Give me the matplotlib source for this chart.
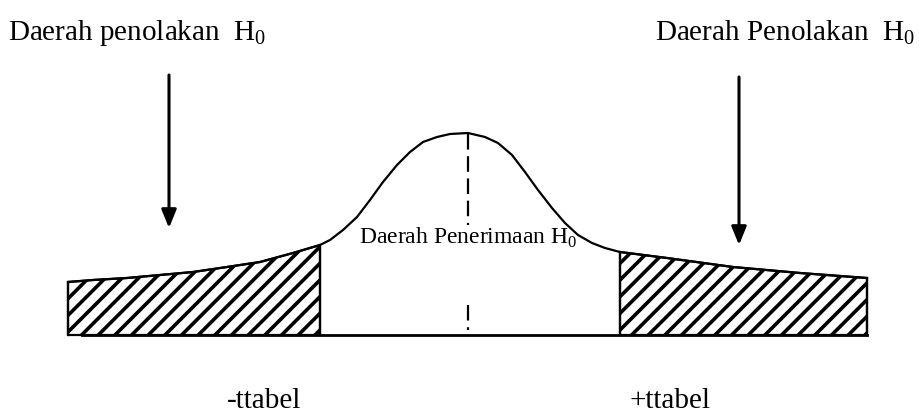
import matplotlib.pyplot as plt

plt.rcParams['font.family'] = ['Liberation Serif', 'DejaVu Serif']
plt.rcParams['mathtext.fontset'] = 'custom'
plt.rcParams['mathtext.rm'] = 'Liberation Serif'
plt.rcParams['hatch.linewidth'] = 2.6

# curve (x in px, height above the base line in px)
kurva_x = [68, 93, 127, 160, 193, 227, 260, 293, 320, 330, 343, 357, 370, 383,
           397, 410, 423, 437, 450, 468, 485, 498, 512, 525, 538, 552, 565,
           578, 592, 605, 620, 667, 733, 800, 867]
kurva_y = [53, 55, 57, 60, 63, 68, 73, 82, 90, 95, 105, 118, 135, 153,
           170, 183, 193, 198, 201, 202, 198, 192, 180, 163, 145, 127, 112,
           100, 92, 87, 83, 77, 68, 62, 57]

t_kiri = 320
t_kanan = 620
puncak = 468
x_awal = 68
x_akhir = 867

fig = plt.figure(figsize=(9.2, 4.15), dpi=100)
ax = fig.add_axes([0, 0, 1, 1])
ax.set_xlim(0, 920)
ax.set_ylim(-80, 335)
ax.axis('off')

ax.plot(kurva_x, kurva_y, color='black', lw=1.6, solid_joinstyle='round')

# rejection regions
kx = [x for x in kurva_x if x <= t_kiri]
ky = kurva_y[:len(kx)]
ax.fill_between(kx, 0, ky, facecolor='white', edgecolor='black', hatch='//', lw=1.6)
ax.plot([x_awal, x_awal], [0, ky[0]], color='black', lw=1.6)
ax.plot([t_kiri, t_kiri], [0, ky[-1]], color='black', lw=1.6)

i0 = kurva_x.index(t_kanan)
ax.fill_between(kurva_x[i0:], 0, kurva_y[i0:], facecolor='white', edgecolor='black',
                hatch='//', lw=1.6)
ax.plot([t_kanan, t_kanan], [0, kurva_y[i0]], color='black', lw=1.6)
ax.plot([x_akhir, x_akhir], [0, kurva_y[-1]], color='black', lw=1.6)

# base line
ax.plot([82, x_akhir], [0, 0], color='black', lw=2)

# centre dashed line
ax.plot([puncak, puncak], [201, 110], color='black', lw=1.6, dashes=(7, 3))
ax.plot([puncak, puncak], [30, 5], color='black', lw=1.6, dashes=(7, 3))

ax.text(puncak, 97, 'Daerah Penerimaan H$_{\\mathrm{0}}$', ha='center', va='center',
        fontsize=17)

# arrows
ax.annotate('', xy=(169, 107), xytext=(169, 260),
            arrowprops=dict(arrowstyle='-|>,head_width=0.45,head_length=1.1',
                            color='black', lw=2.2, shrinkA=0, shrinkB=0))
ax.annotate('', xy=(739, 90), xytext=(739, 258),
            arrowprops=dict(arrowstyle='-|>,head_width=0.45,head_length=1.1',
                            color='black', lw=2.2, shrinkA=0, shrinkB=0))

ax.text(8, 302, 'Daerah penolakan  H$_{\\mathrm{0}}$', ha='left', va='center', fontsize=21)
ax.text(655, 302, 'Daerah Penolakan  H$_{\\mathrm{0}}$', ha='left', va='center', fontsize=21)

ax.text(227, -66, '-ttabel', ha='left', va='center', fontsize=21)
ax.text(630, -66, '+ttabel', ha='left', va='center', fontsize=21)

fig.savefig('out.png', dpi=100)
